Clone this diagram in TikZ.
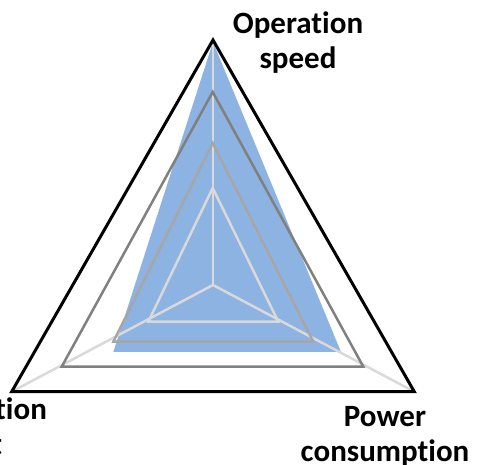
\documentclass[tikz,border=0pt]{standalone}
\usepackage{fontspec}
\setmainfont{Carlito}[Ligatures=NoCommon]
\definecolor{seriesblue}{HTML}{8DB3E2}
\definecolor{gridlight}{HTML}{D9D9D9}
\definecolor{gridmid}{HTML}{A6A6A6}
\definecolor{griddark}{HTML}{808080}
\tikzset{
    axislabel/.style={font=\fontsize{31}{35}\selectfont\bfseries, align=center, inner sep=0pt, anchor=north},
    gridline/.style={line width=2.5pt, line join=miter},
    spoke/.style={gridline, draw=gridlight}
}

\begin{document}
\begin{tikzpicture}[x=1pt, y=-1pt]
    \clip (0,0) rectangle (477,465);
    \coordinate (centre) at (213,285);
    % axis ends, one set per ring
    \coordinate (speed4) at (213,40);   \coordinate (cost4) at (11.7,391.7);  \coordinate (power4) at (414.3,391.7);
    \coordinate (speed3) at (212.7,92); \coordinate (cost3) at (61.7,366.7);  \coordinate (power3) at (363.3,366.7);
    \coordinate (speed2) at (212.7,143);\coordinate (cost2) at (113.3,341.7); \coordinate (power2) at (313.3,341.7);
    \coordinate (speed1) at (212.7,188);\coordinate (cost1) at (148.3,321.7); \coordinate (power1) at (278.3,321.7);
    % data series
    \coordinate (dataspeed) at (213,42);
    \coordinate (datacost) at (113.3,352);
    \coordinate (datapower) at (341,352);
    \fill[seriesblue] (dataspeed) -- (datapower) -- (datacost) -- cycle;

    \draw[spoke] (centre) -- (speed4);
    \draw[spoke] (centre) -- (cost4);
    \draw[spoke] (centre) -- (power4);
    \draw[gridline, draw=gridlight] (speed1) -- (power1) -- (cost1) -- cycle;
    \draw[gridline, draw=gridmid] (speed2) -- (power2) -- (cost2) -- cycle;
    \draw[gridline, draw=griddark] (speed3) -- (power3) -- (cost3) -- cycle;
    \draw[gridline, line width=3pt, draw=black] (speed4) -- (power4) -- (cost4) -- cycle;

    \node[axislabel] (speedlabel) at (298,12) {Operation\\speed};
    \node[axislabel] (powerlabel) at (385,406) {Power\\consumption};
    \node[axislabel] (costlabel) at (-24,398) {Production\\cost};
\end{tikzpicture}
\end{document}
